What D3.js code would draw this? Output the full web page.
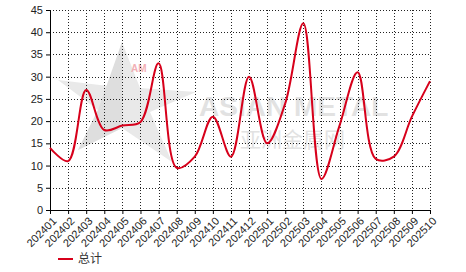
<!DOCTYPE html>
<html><head><meta charset="utf-8">
<script src="https://cdn.jsdelivr.net/npm/d3@7"></script>
<style>body{margin:0;background:#fff}svg{display:block}</style>
</head><body>
<svg id="c" width="466" height="272"></svg>
<script>
const categories = ["202401","202402","202403","202404","202405","202406","202407","202408","202409","202410","202411","202412","202501","202502","202503","202504","202505","202506","202507","202508","202509","202510"];
const totalValues = [14,11,27,18,19,19.8,33,9.5,12,21,12,30,15,24,42,7,19,31,11.5,12,21,29];
const yTicks = [0,5,10,15,20,25,30,35,40,45];
const seriesName = "总计";

const svg = d3.select("#c");
const L = 50, R = 430, T = 10, B = 210;
const x = d3.scalePoint().domain(categories).range([L, R]);
const y = d3.scaleLinear().domain([0, 45]).range([B, T]);
const font = "'Liberation Sans', Arial, sans-serif";

// watermark
const wm = svg.append("g");
const star = [[122,42],[140,88],[196,92],[150,112],[172,162],[122,128],[78,150],[98,110],[58,80],[108,86]];
wm.append("path").attr("d", d3.line()(star) + "Z").attr("fill", "#e9e9e9");
wm.append("path").attr("d", d3.line()([[122,42],[122,128],[78,150],[98,110]]) + "Z").attr("fill", "#dedede");
wm.append("text").attr("x", 131).attr("y", 72).attr("font-family", font).attr("font-size", 10).attr("font-weight", "bold").attr("fill", "#f2b0b5").text("AM");
wm.append("text").attr("x", 199).attr("y", 116).attr("font-family", font).attr("font-size", 28).attr("font-weight", "bold").attr("fill", "#e2e2e2").text("ASIAN METAL");
wm.append("text").attr("x", 240).attr("y", 147).attr("font-family", "'Noto Sans CJK SC', sans-serif").attr("font-size", 21).attr("fill", "#e2e2e2").text("亚洲金属网");

// grid
const g = svg.append("g");
g.selectAll(".gy").data(yTicks.filter(d => d > 0)).join("line")
  .attr("x1", L).attr("x2", R).attr("y1", d => Math.round(y(d)) + 0.5).attr("y2", d => Math.round(y(d)) + 0.5)
  .attr("stroke", "#222").attr("stroke-dasharray", "1,2");
g.selectAll(".gx").data(categories.slice(1)).join("line")
  .attr("x1", d => Math.round(x(d)) + 0.5).attr("x2", d => Math.round(x(d)) + 0.5).attr("y1", T).attr("y2", B)
  .attr("stroke", "#222").attr("stroke-dasharray", "1,2");

// axes
const ya = svg.append("g").attr("transform", `translate(${L},0)`)
  .call(d3.axisLeft(y).tickValues(yTicks).tickSize(4).tickPadding(3));
const xa = svg.append("g").attr("transform", `translate(0,${B})`)
  .call(d3.axisBottom(x).tickSize(4).tickPadding(2));
[ya, xa].forEach(a => {
  a.select(".domain").attr("stroke", "#000");
  a.selectAll(".tick line").attr("stroke", "#000");
  a.selectAll("text").attr("font-family", font).attr("font-size", 11).attr("fill", "#222");
});
xa.selectAll(".tick text").attr("text-anchor", "end").attr("x", 0).attr("y", 0).attr("dx", 0).attr("dy", "0.35em")
  .attr("transform", "translate(4,9) rotate(-45)");

// line
const line = d3.line().x((d, i) => x(categories[i])).y(d => y(d)).curve(d3.curveCatmullRom.alpha(0.5));
svg.append("path").datum(totalValues).attr("d", line)
  .attr("fill", "none").attr("stroke", "#d7001b").attr("stroke-width", 2);

// legend
svg.append("line").attr("x1", 58).attr("x2", 73).attr("y1", 259).attr("y2", 259)
  .attr("stroke", "#d7001b").attr("stroke-width", 2);
svg.append("text").attr("x", 78).attr("y", 263).attr("font-family", "'Noto Sans CJK SC', sans-serif")
  .attr("font-size", 12).attr("fill", "#333").text(seriesName);
</script>
</body></html>
